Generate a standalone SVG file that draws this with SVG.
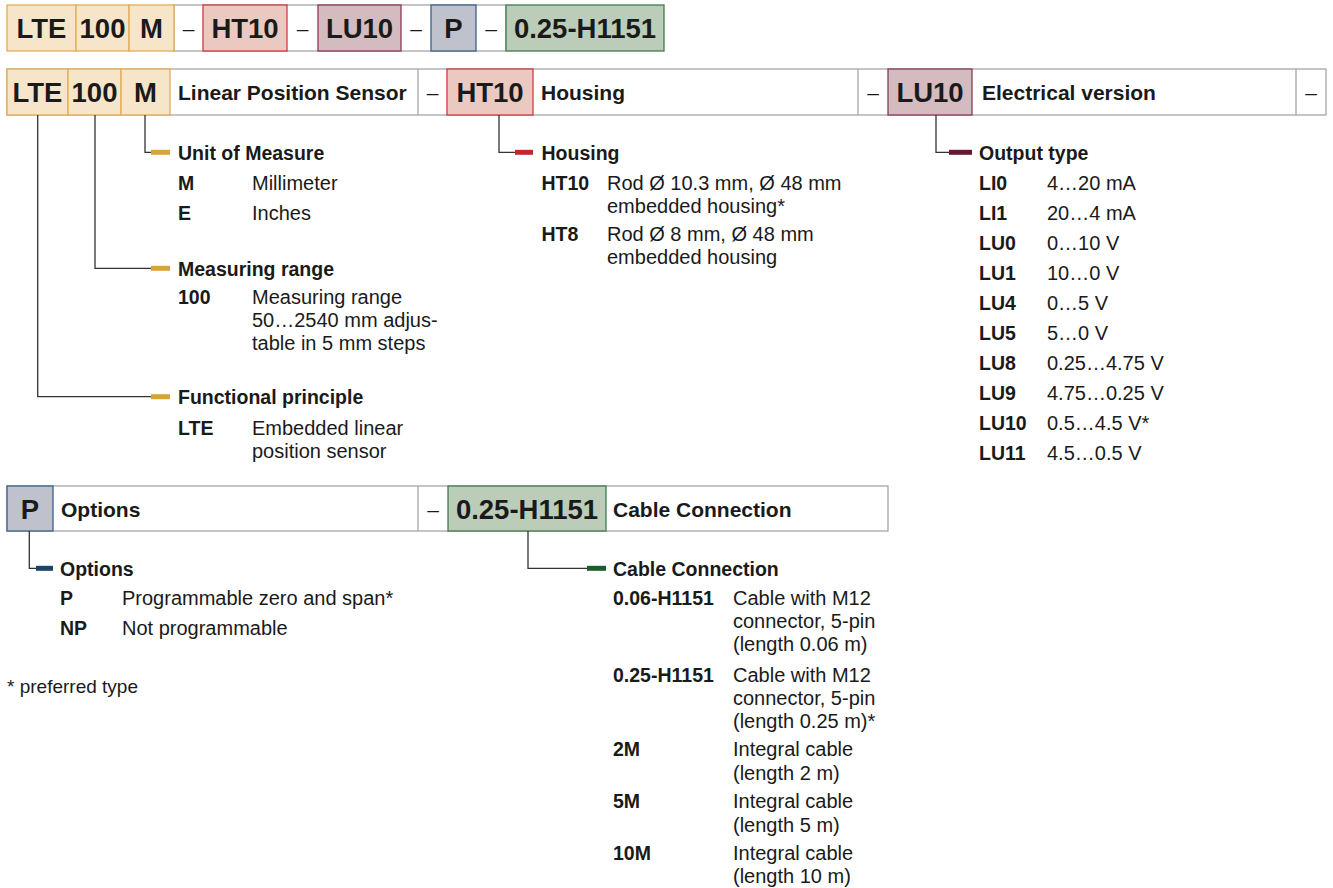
<svg xmlns="http://www.w3.org/2000/svg" width="1333" height="888" viewBox="0 0 1333 888">
<style>
text{font-family:"Liberation Sans",Arial,sans-serif;fill:#1a1a1a}
.code{font-size:27.5px;font-weight:bold;text-anchor:middle}
.lbl{font-size:21px;font-weight:bold}
.dash{font-size:21px;text-anchor:middle}
.hd{font-size:19.5px;font-weight:bold}
.k{font-size:19.5px;font-weight:bold}
.v{font-size:20px}
.note{font-size:19px}
.w{fill:#fff;stroke:#a6a6a6;stroke-width:1.3}
.or{fill:#f6e5c8;stroke:#e2ad55;stroke-width:1.3}
.rd{fill:#ebc9c0;stroke:#cf3a3f;stroke-width:1.3}
.mv{fill:#d3bbc0;stroke:#8c3a58;stroke-width:1.3}
.bl{fill:#bfc1cd;stroke:#3a6288;stroke-width:1.3}
.gn{fill:#bbcdb9;stroke:#3f7c4c;stroke-width:1.3}
.ln{fill:none;stroke:#333;stroke-width:1.3}
</style>

<g id="code-row">
<rect class="w" x="174" y="5" width="332" height="46"/>
<rect class="or" x="7" y="5" width="69" height="46"/>
<rect class="or" x="76" y="5" width="53" height="46"/>
<rect class="or" x="129" y="5" width="45" height="46"/>
<rect class="rd" x="203" y="5" width="84" height="46"/>
<rect class="mv" x="318" y="5" width="83" height="46"/>
<rect class="bl" x="431" y="5" width="45" height="46"/>
<rect class="gn" x="506" y="5" width="158" height="46"/>
<text class="code" x="41.5" y="38">LTE</text>
<text class="code" x="102.5" y="38">100</text>
<text class="code" x="151.5" y="38">M</text>
<text class="dash" x="188.5" y="36">–</text>
<text class="code" x="245" y="38">HT10</text>
<text class="dash" x="302.5" y="36">–</text>
<text class="code" x="359.5" y="38">LU10</text>
<text class="dash" x="416" y="36">–</text>
<text class="code" x="453.5" y="38">P</text>
<text class="dash" x="491" y="36">–</text>
<text class="code" x="585" y="38">0.25-H1151</text>
</g>

<g id="header-row">
<rect class="w" x="7" y="69" width="1319" height="46"/>
<line class="w" x1="418" y1="69" x2="418" y2="115"/>
<line class="w" x1="858" y1="69" x2="858" y2="115"/>
<line class="w" x1="1296" y1="69" x2="1296" y2="115"/>
<rect class="or" x="7" y="69" width="61" height="46"/>
<rect class="or" x="68" y="69" width="53" height="46"/>
<rect class="or" x="121" y="69" width="49" height="46"/>
<rect class="rd" x="447" y="69" width="86" height="46"/>
<rect class="mv" x="888" y="69" width="84" height="46"/>
<text class="code" x="37.5" y="102">LTE</text>
<text class="code" x="94.5" y="102">100</text>
<text class="code" x="145.5" y="102">M</text>
<text class="lbl" x="178" y="100">Linear Position Sensor</text>
<text class="dash" x="432.5" y="100">–</text>
<text class="code" x="490" y="102">HT10</text>
<text class="lbl" x="541" y="100">Housing</text>
<text class="dash" x="873" y="100">–</text>
<text class="code" x="930" y="102">LU10</text>
<text class="lbl" x="982" y="100">Electrical version</text>
<text class="dash" x="1311" y="100">–</text>
</g>

<g id="options-row">
<rect class="w" x="7" y="486" width="881" height="45"/>
<line class="w" x1="418" y1="486" x2="418" y2="531"/>
<rect class="bl" x="7" y="486" width="46" height="45"/>
<rect class="gn" x="448" y="486" width="158" height="45"/>
<text class="code" x="30" y="518.5">P</text>
<text class="lbl" x="61" y="516.5">Options</text>
<text class="dash" x="433" y="516.5">–</text>
<text class="code" x="527" y="518.5">0.25-H1151</text>
<text class="lbl" x="613" y="516.5">Cable Connection</text>
</g>

<g id="connectors">
<polyline class="ln" points="145,115 145,152.3 152,152.3"/>
<polyline class="ln" points="95,115 95,268.3 152,268.3"/>
<polyline class="ln" points="37.7,115 37.7,396.7 152,396.7"/>
<polyline class="ln" points="499,115 499,152.3 516,152.3"/>
<polyline class="ln" points="936,115 936,152.3 950,152.3"/>
<polyline class="ln" points="29.3,531 29.3,568.3 37,568.3"/>
<polyline class="ln" points="528,531 528,568.3 588,568.3"/>
<rect x="151" y="149.8" width="19" height="5" fill="#d9a23a"/>
<rect x="151" y="265.8" width="19" height="5" fill="#d9a23a"/>
<rect x="151" y="394.2" width="19" height="5" fill="#d9a23a"/>
<rect x="515" y="149.8" width="18" height="5" fill="#c4262e"/>
<rect x="949" y="149.8" width="23" height="5" fill="#6a1632"/>
<rect x="36" y="565.8" width="17" height="5" fill="#1d4366"/>
<rect x="587" y="565.8" width="19" height="5" fill="#1b5e2b"/>
</g>

<g id="unit-of-measure">
<text class="hd" x="178" y="159.5">Unit of Measure</text>
<text class="k" x="178" y="190">M</text><text class="v" x="252" y="190">Millimeter</text>
<text class="k" x="178" y="220">E</text><text class="v" x="252" y="220">Inches</text>
</g>

<g id="measuring-range">
<text class="hd" x="178" y="275.5">Measuring range</text>
<text class="k" x="178" y="304">100</text>
<text class="v" x="252" y="304">Measuring range</text>
<text class="v" x="252" y="327">50…2540 mm adjus-</text>
<text class="v" x="252" y="350">table in 5 mm steps</text>
</g>

<g id="functional-principle">
<text class="hd" x="178" y="404">Functional principle</text>
<text class="k" x="178" y="435">LTE</text>
<text class="v" x="252" y="435">Embedded linear</text>
<text class="v" x="252" y="458">position sensor</text>
</g>

<g id="housing">
<text class="hd" x="541.5" y="159.5">Housing</text>
<text class="k" x="541.5" y="190">HT10</text>
<text class="v" x="607" y="190">Rod Ø 10.3 mm, Ø 48 mm</text>
<text class="v" x="607" y="212.5">embedded housing*</text>
<text class="k" x="541.5" y="240.5">HT8</text>
<text class="v" x="607" y="240.5">Rod Ø 8 mm, Ø 48 mm</text>
<text class="v" x="607" y="263.5">embedded housing</text>
</g>

<g id="output-type">
<text class="hd" x="979" y="159.5">Output type</text>
<text class="k" x="979" y="190">LI0</text><text class="v" x="1047" y="190">4…20 mA</text>
<text class="k" x="979" y="220">LI1</text><text class="v" x="1047" y="220">20…4 mA</text>
<text class="k" x="979" y="250">LU0</text><text class="v" x="1047" y="250">0…10 V</text>
<text class="k" x="979" y="280">LU1</text><text class="v" x="1047" y="280">10…0 V</text>
<text class="k" x="979" y="310">LU4</text><text class="v" x="1047" y="310">0…5 V</text>
<text class="k" x="979" y="340">LU5</text><text class="v" x="1047" y="340">5…0 V</text>
<text class="k" x="979" y="370">LU8</text><text class="v" x="1047" y="370">0.25…4.75 V</text>
<text class="k" x="979" y="400">LU9</text><text class="v" x="1047" y="400">4.75…0.25 V</text>
<text class="k" x="979" y="430">LU10</text><text class="v" x="1047" y="430">0.5…4.5 V*</text>
<text class="k" x="979" y="460">LU11</text><text class="v" x="1047" y="460">4.5…0.5 V</text>
</g>

<g id="options">
<text class="hd" x="60" y="575.5">Options</text>
<text class="k" x="60" y="605">P</text><text class="v" x="122" y="605">Programmable zero and span*</text>
<text class="k" x="60" y="635">NP</text><text class="v" x="122" y="635">Not programmable</text>
</g>

<g id="cable-connection">
<text class="hd" x="613" y="575.5">Cable Connection</text>
<text class="k" x="613" y="605">0.06-H1151</text>
<text class="v" x="733" y="605">Cable with M12</text>
<text class="v" x="733" y="628">connector, 5-pin</text>
<text class="v" x="733" y="651">(length 0.06 m)</text>
<text class="k" x="613" y="681.5">0.25-H1151</text>
<text class="v" x="733" y="681.5">Cable with M12</text>
<text class="v" x="733" y="705">connector, 5-pin</text>
<text class="v" x="733" y="728">(length 0.25 m)*</text>
<text class="k" x="613" y="756">2M</text>
<text class="v" x="733" y="756">Integral cable</text>
<text class="v" x="733" y="779.5">(length 2 m)</text>
<text class="k" x="613" y="808">5M</text>
<text class="v" x="733" y="808">Integral cable</text>
<text class="v" x="733" y="831.5">(length 5 m)</text>
<text class="k" x="613" y="859.5">10M</text>
<text class="v" x="733" y="859.5">Integral cable</text>
<text class="v" x="733" y="883">(length 10 m)</text>
</g>

<g id="footnote">
<text class="note" x="7" y="693">* preferred type</text>
</g>
</svg>
